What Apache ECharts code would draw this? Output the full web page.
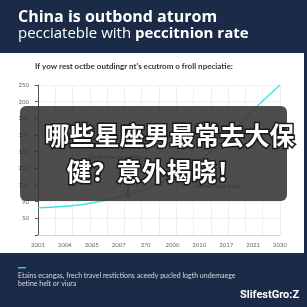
<!DOCTYPE html>
<html>
<head>
<meta charset="utf-8">
<script src="https://cdn.jsdelivr.net/npm/echarts@6/dist/echarts.min.js"></script>
<style>
html,body{margin:0;padding:0;background:#fff;}
#chart{width:307px;height:307px;}
</style>
</head>
<body>
<div id="chart"></div>
<script>
// 数据
var years = ['2001', '2004', '2005', '2007', '2?0', '2000', '2010', '2017', '2021', '2030'];
var values = [66, 68, 73, 82, 94, 112, 137, 170, 212, 250];
// y轴刻度文字 (从下往上)
var yTickLabels = ['', '50', '90', '150', '200', '180', '190', '240', '200', '250'];

var navy = '#1b2a47';

var chart = echarts.init(document.getElementById('chart'));
var option = {
    animation: false,
    backgroundColor: '#fff',
    grid: {
        left: 38,
        right: 27,
        top: 85,
        bottom: 72
    },
    xAxis: [{
        type: 'category',
        data: years,
        boundaryGap: false,
        axisLine: { lineStyle: { color: '#d6d6d6' } },
        axisTick: { show: false },
        axisLabel: { color: '#666', fontSize: 6, fontFamily: 'Lato', margin: 7 },
        splitLine: { show: false }
    }, {
        type: 'value',
        min: 0,
        max: 14,
        interval: 1,
        position: 'bottom',
        axisLine: { show: false },
        axisTick: { show: false },
        axisLabel: { show: false },
        splitLine: { show: true, lineStyle: { color: '#efefef', width: 1 } }
    }],
    yAxis: {
        type: 'value',
        min: 25,
        max: 250,
        interval: 25,
        offset: 4,
        axisLine: { show: true, lineStyle: { color: '#555' } },
        axisTick: { show: true, length: 3, lineStyle: { color: '#555' } },
        axisLabel: {
            color: '#666',
            fontSize: 6,
            fontFamily: 'Lato',
            margin: 5,
            formatter: function (v) {
                var i = Math.round((v - 25) / 25);
                return yTickLabels[i] || '';
            }
        },
        splitLine: { show: true, lineStyle: { color: '#efefef' } }
    },
    series: [{
        type: 'line',
        data: values,
        smooth: true,
        symbol: 'none',
        lineStyle: { color: '#3fe3e8', width: 1.5 },
        z: 3
    }],
    graphic: [
        // header
        { type: 'rect', left: 0, top: 0, shape: { width: 307, height: 53 }, style: { fill: navy }, z: 10 },
        { type: 'text', left: 18, top: 9, style: { text: 'China is outbond aturom', fill: '#fff', font: 'bold 16px "Open Sans"' }, z: 11 },
        { type: 'text', left: 18, top: 26, style: {
            text: '{n|pecciateble with }{b|peccitnion rate}',
            rich: {
                n: { fill: '#fff', font: '15px "Open Sans"' },
                b: { fill: '#fff', font: 'bold 15px "Open Sans"' }
            }
        }, z: 11 },
        // right edge strip
        { type: 'rect', left: 304, top: 53, shape: { width: 3, height: 200 }, style: { fill: navy }, z: 10 },
        // subtitle
        { type: 'text', left: 35, top: 62, style: { text: "If yow rest octbe outdingr nt's ecutrom o froll npeciatie:", fill: '#333', font: 'bold 8px Lato' }, z: 10 },
        // annotation (under overlay)
        { type: 'text', left: 88, top: 154, style: { text: 'ofdre raesone ponpo', fill: '#444', font: '6px Lato' }, z: 4 },
        { type: 'text', left: 196, top: 176, style: { text: 'medaee\nbarnet bsar eage', fill: '#444', font: '6px Lato', lineHeight: 7 }, z: 4 },
        { type: 'line', shape: { x1: 128, y1: 183, x2: 128, y2: 197 }, style: { stroke: '#222', lineWidth: 1 }, z: 4 },
        // overlay
        { type: 'rect', left: 20, top: 106, shape: { width: 267, height: 95, r: 6 }, style: { fill: 'rgba(52,52,52,0.88)' }, z: 20 },
        { type: 'text', left: 43, top: 121, style: {
            text: '哪些星座男最常去大保',
            fill: '#fff',
            font: 'bold 25px "Noto Sans CJK SC"',
            stroke: '#1a1a1a', lineWidth: 3,
            shadowColor: 'rgba(0,0,0,0.6)', shadowBlur: 2, shadowOffsetX: 1, shadowOffsetY: 1
        }, z: 21 },
        { type: 'text', left: 65, top: 157, style: {
            text: '健？意外揭晓！',
            fill: '#fff',
            font: 'bold 25px "Noto Sans CJK SC"',
            stroke: '#1a1a1a', lineWidth: 3,
            shadowColor: 'rgba(0,0,0,0.6)', shadowBlur: 2, shadowOffsetX: 1, shadowOffsetY: 1
        }, z: 21 },
        // footer
        { type: 'rect', left: 0, top: 253, shape: { width: 307, height: 54 }, style: { fill: navy }, z: 10 },
        { type: 'rect', left: 18, top: 267, shape: { width: 8, height: 1.5 }, style: { fill: '#2ec4c8' }, z: 11 },
        { type: 'text', left: 18, top: 272, style: {
            text: 'Etains ecangas, frech travel restictions aceedy pucled logth undemaege\nbetine helt or viura',
            fill: '#d4dae4', font: '7px Lato', lineHeight: 8
        }, z: 11 },
        { type: 'text', left: 240, top: 290, style: { text: 'SlifestGro:Z', fill: '#fff', font: 'bold 11px "Liberation Sans Narrow", Roboto' }, z: 11 }
    ]
};
chart.setOption(option);
</script>
</body>
</html>
